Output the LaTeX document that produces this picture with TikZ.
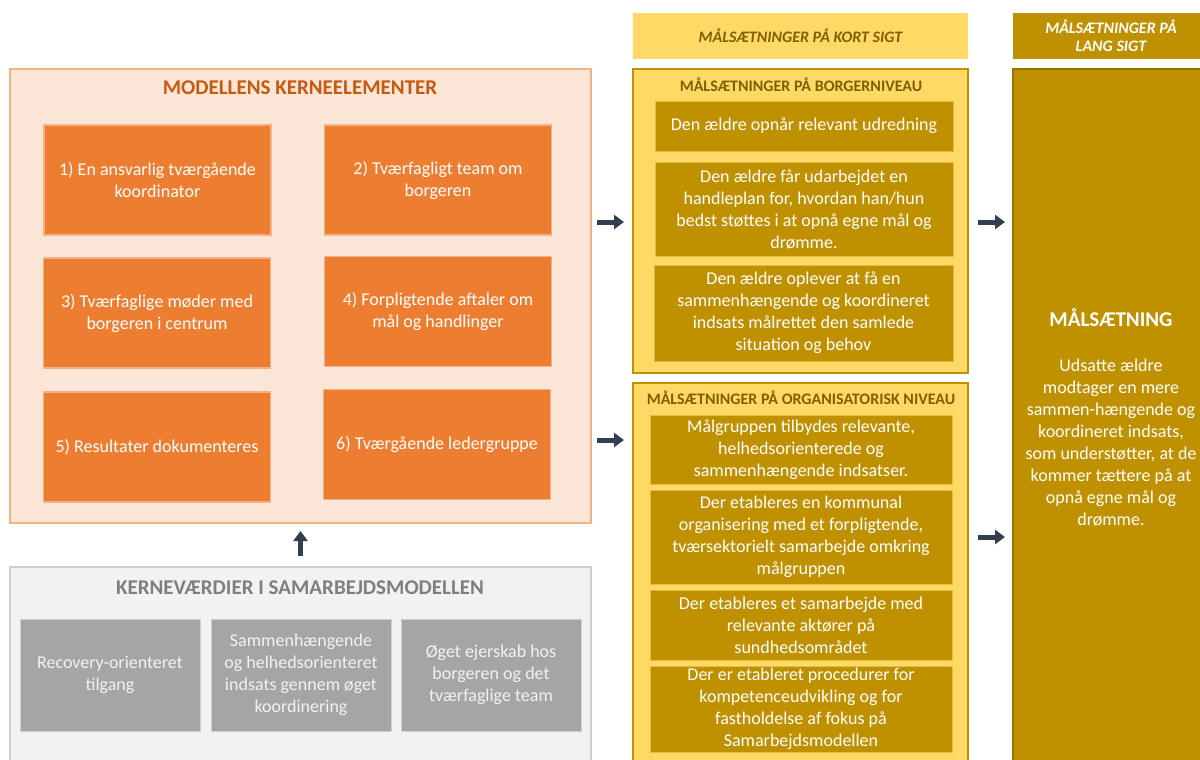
\documentclass[tikz,border=0pt]{standalone}
\usepackage{fontspec}
\setmainfont{Carlito}
\usetikzlibrary{arrows.meta,positioning}
\definecolor{peach}{HTML}{FBE5D6}
\definecolor{peachline}{HTML}{F4B183}
\definecolor{orangebox}{HTML}{ED7D31}
\definecolor{orangetext}{HTML}{C55A11}
\definecolor{lightgrey}{HTML}{F2F2F2}
\definecolor{greyline}{HTML}{D0CECE}
\definecolor{greybox}{HTML}{A5A5A5}
\definecolor{greytext}{HTML}{7F7F7F}
\definecolor{lightgold}{HTML}{FFD966}
\definecolor{gold}{HTML}{BF9000}
\definecolor{darkgold}{HTML}{7F6000}
\definecolor{arrowblue}{HTML}{333F50}
\tikzset{
    frame/.style={rectangle, inner sep=0pt, line width=2pt},
    bodytext/.style={font=\fontsize{18}{22}\selectfont, align=center, text centered},
    kernebox/.style={rectangle, fill=orangebox, draw=peachline, line width=1.5pt, text=white, bodytext, minimum width=227pt, minimum height=110pt},
    vaerdibox/.style={rectangle, fill=greybox, draw=greyline, line width=1pt, text=lightgrey, bodytext, minimum width=180pt, minimum height=112pt},
    maalbox/.style={rectangle, fill=gold, draw=lightgold!60!gold, line width=1pt, text=white, bodytext, inner sep=0pt},
    mytitle/.style={font=\fontsize{21}{24}\selectfont\bfseries},
    smalltitle/.style={font=\fontsize{16}{18}\selectfont\bfseries, text=darkgold},
    myarrow/.style={-{Triangle[length=10pt,width=14pt]}, line width=5pt, draw=arrowblue}
}
\begin{document}
\begin{tikzpicture}[x=1pt, y=-1pt]
\useasboundingbox (0,0) rectangle (1200,760);

% kerneelementer
\node[frame, fill=peach, draw=peachline, minimum width=581pt, minimum height=454pt] (kerne) at (300.5,296) {};
\node[mytitle, text=orangetext] (kernetitle) at (300,88) {MODELLENS KERNEELEMENTER};
\node[kernebox] (elem1) at (157.5,180) {1) En ansvarlig tværgående\\koordinator};
\node[kernebox] (elem2) at (438,180) {2) Tværfagligt team om\\borgeren};
\node[kernebox] (elem3) at (157,313) {3) Tværfaglige møder med\\borgeren i centrum};
\node[kernebox] (elem4) at (438,311.5) {4) Forpligtende aftaler om\\mål og handlinger};
\node[kernebox] (elem5) at (157,447) {5) Resultater dokumenteres};
\node[kernebox] (elem6) at (437,444.5) {6) Tværgående ledergruppe};

% kerneværdier
\node[frame, fill=lightgrey, draw=greyline, minimum width=581pt, minimum height=210pt] (vaerdier) at (300.5,672) {};
\node[mytitle, text=greytext] (vaerdititle) at (300,588) {KERNEVÆRDIER I SAMARBEJDSMODELLEN};
\node[vaerdibox] (vaerdi1) at (110,675) {Recovery-orienteret\\tilgang};
\node[vaerdibox] (vaerdi2) at (301,675) {Sammenhængende\\og helhedsorienteret\\indsats gennem øget\\koordinering};
\node[vaerdibox] (vaerdi3) at (491,675) {Øget ejerskab hos\\borgeren og det\\tværfaglige team};

% kort sigt
\node[rectangle, fill=lightgold, minimum width=335pt, minimum height=46pt, font=\fontsize{16}{18}\selectfont\bfseries\itshape, text=darkgold] (kortsigt) at (800.5,36) {MÅLSÆTNINGER PÅ KORT SIGT};
\node[frame, fill=lightgold, draw=gold, minimum width=335pt, minimum height=304pt] (borger) at (800.5,221) {};
\node[smalltitle] (borgertitle) at (801,85) {MÅLSÆTNINGER PÅ BORGERNIVEAU};
\node[maalbox, minimum width=298pt, minimum height=50pt] (borger1) at (804,126) {Den ældre opnår relevant udredning};
\node[maalbox, minimum width=298pt, minimum height=94pt] (borger2) at (804,209) {Den ældre får udarbejdet en\\handleplan for, hvordan han/hun\\bedst støttes i at opnå egne mål og\\drømme.};
\node[maalbox, minimum width=299pt, minimum height=96pt] (borger3) at (803.5,313) {Den ældre oplever at få en\\sammenhængende og koordineret\\indsats målrettet den samlede\\situation og behov};

\node[frame, fill=lightgold, draw=gold, minimum width=335pt, minimum height=392pt] (org) at (800.5,579) {};
\node[smalltitle] (orgtitle) at (801,398) {MÅLSÆTNINGER PÅ ORGANISATORISK NIVEAU};
\node[maalbox, minimum width=302pt, minimum height=69pt] (org1) at (801,449.5) {Målgruppen tilbydes relevante,\\helhedsorienterede og\\sammenhængende indsatser.};
\node[maalbox, minimum width=302pt, minimum height=94pt] (org2) at (801,537) {Der etableres en kommunal\\organisering med et forpligtende,\\tværsektorielt samarbejde omkring\\målgruppen};
\node[maalbox, minimum width=302pt, minimum height=70pt] (org3) at (801,625) {Der etableres et samarbejde med\\relevante aktører på\\sundhedsområdet};
\node[maalbox, minimum width=302pt, minimum height=86pt] (org4) at (801,709) {Der er etableret procedurer for\\kompetenceudvikling og for\\fastholdelse af fokus på\\Samarbejdsmodellen};

% lang sigt
\node[rectangle, fill=gold, minimum width=196pt, minimum height=46pt, align=center, font=\fontsize{16}{18}\selectfont\bfseries\itshape, text=white] (langsigt) at (1111,36) {MÅLSÆTNINGER PÅ\\LANG SIGT};
\node[frame, fill=gold, draw=gold!80!black, minimum width=196pt, minimum height=706pt] (lang) at (1111,422) {};
\node[font=\fontsize{21}{24}\selectfont\bfseries, text=white] (langtitle) at (1111,318) {MÅLSÆTNING};
\node[bodytext, text=white] (langtext) at (1111,443) {Udsatte ældre\\modtager en mere\\sammen-hængende og\\koordineret indsats,\\som understøtter, at de\\kommer tættere på at\\opnå egne mål og\\drømme.};

% pile
\draw[myarrow, shorten <=10pt, shorten >=7pt] (vaerdier.north) -- (kerne.south);
\draw[myarrow, shorten <=5pt, shorten >=8pt] (kerne.east |- 0,222) -- (borger.west |- 0,222);
\draw[myarrow, shorten <=5pt, shorten >=8pt] (kerne.east |- 0,440) -- (org.west |- 0,440);
\draw[myarrow, shorten <=9pt, shorten >=7pt] (borger.east |- 0,222) -- (lang.west |- 0,222);
\draw[myarrow, shorten <=9pt, shorten >=7pt] (org.east |- 0,537) -- (lang.west |- 0,537);
\end{tikzpicture}
\end{document}
